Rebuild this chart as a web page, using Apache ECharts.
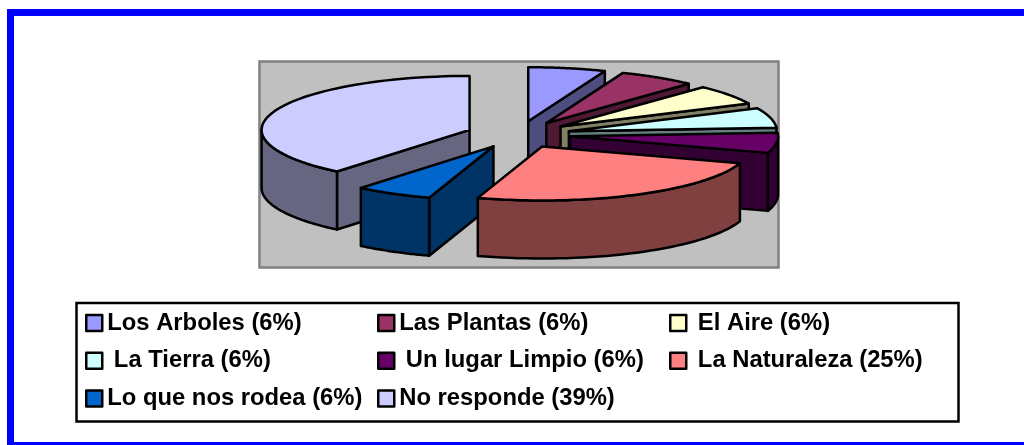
<!DOCTYPE html>
<html>
<head>
<meta charset="utf-8">
<title>Pie</title>
<script src="https://cdn.jsdelivr.net/npm/echarts@6/dist/echarts.min.js"></script>
<style>
html, body { margin: 0; padding: 0; background: #fff; }
#main { width: 1024px; height: 445px; }
</style>
</head>
<body>
<div id="main"></div>
<script>
// datos
var categories = ['Los Arboles (6%)', 'Las Plantas (6%)', ' El Aire (6%)', ' La Tierra (6%)', ' Un lugar Limpio (6%)', ' La Naturaleza (25%)', 'Lo que nos rodea (6%)', 'No responde (39%)'];
var values = [6, 6, 6, 6, 6, 25, 6, 39];
var topColors = ['#9999FF', '#993366', '#FFFFCC', '#CCFFFF', '#660066', '#FF8080', '#0066CC', '#CCCCFF'];
var sideColors = ['#4D4D80', '#4D1933', '#808066', '#668080', '#330033', '#804040', '#003366', '#666680'];
var zOrder = [1, 2, 3, 4, 5, 8, 7, 6];

// columnas de la leyenda
var legendCol1 = [categories[0], categories[3], categories[6]];
var legendCol2 = [categories[1], categories[4], categories[7]];
var legendCol3 = [categories[2], categories[5]];

// pastel "3D" : elipse + profondeur
var cx = 518.5, cy = 134.5, rx = 208, ry = 54, depth = 58, explode = 52;
var total = 0;
for (var i = 0; i < values.length; i++) total += values[i];

function pt(c, ang, h) {
	var a = ang * Math.PI / 180;
	return [c[0] + Math.sin(a) * rx, c[1] - Math.cos(a) * ry + (h || 0)];
}

function renderSlice(index) {
	var before = 0;
	for (var i = 0; i < index; i++) before += values[i];
	var start = before / total * 360;
	var end = (before + values[index]) / total * 360;
	var mid = (start + end) / 2 * Math.PI / 180;
	var c = [cx + Math.sin(mid) * explode, cy - Math.cos(mid) * explode * ry / rx];

	var side = { fill: sideColors[index], stroke: '#000', lineWidth: 2.5, lineJoin: 'round' };
	var children = [];

	function wall(ang) {
		var p = pt(c, ang);
		children.push({
			type: 'polygon',
			shape: { points: [c, p, [p[0], p[1] + depth], [c[0], c[1] + depth]] },
			style: side
		});
	}
	if (start >= 180 && start < 360) wall(start);
	if (end > 0 && end <= 180) wall(end);

	// face courbe visible (devant)
	var a0 = Math.max(start, 90), a1 = Math.min(end, 270);
	if (a1 > a0) {
		var up = [], down = [];
		for (var k = 0; k <= 40; k++) {
			var a = a0 + (a1 - a0) * k / 40;
			up.push(pt(c, a));
			down.unshift(pt(c, a, depth));
		}
		children.push({ type: 'polygon', shape: { points: up.concat(down) }, style: side });
	}

	// dessus
	var pts = [c];
	for (var j = 0; j <= 60; j++) pts.push(pt(c, start + (end - start) * j / 60));
	children.push({
		type: 'polygon',
		shape: { points: pts },
		style: { fill: topColors[index], stroke: '#000', lineWidth: 2.5, lineJoin: 'round' }
	});
	return { type: 'group', children: children };
}

var series = [];
for (var s = 0; s < categories.length; s++) {
	(function(index) {
		series.push({
			type: 'custom',
			name: categories[index],
			coordinateSystem: 'none',
			z: zOrder[index] + 1,
			silent: true,
			itemStyle: { color: topColors[index] },
			data: [values[index]],
			renderItem: function() { return renderSlice(index); }
		});
	})(s);
}

function makeLegend(names, left) {
	return {
		data: names,
		orient: 'vertical',
		left: left,
		top: 311,
		padding: 0,
		itemWidth: 16,
		itemHeight: 16,
		itemGap: 13.8,
		icon: 'rect',
		selectedMode: false,
		itemStyle: { borderColor: '#000', borderWidth: 2.5, borderJoin: 'round' },
		textStyle: { fontFamily: 'Liberation Sans', fontWeight: 'bold', fontSize: 23.8, lineHeight: 20, color: '#000' }
	};
}

var myChart = echarts.init(document.getElementById('main'));
var option = {
	animation: false,
	backgroundColor: '#fff',
	legend: [makeLegend(legendCol1, 85), makeLegend(legendCol2, 377), makeLegend(legendCol3, 669)],
	graphic: [
		// le cadre bleu sort de l'image a droite et en bas
		{ type: 'rect', z: 0, shape: { x: 10.5, y: 12.5, width: 1030, height: 433 }, style: { fill: '#fff', stroke: '#0000FF', lineWidth: 7 } },
		{ type: 'rect', z: 0, shape: { x: 259.5, y: 61.5, width: 519, height: 206 }, style: { fill: '#C0C0C0', stroke: '#808080', lineWidth: 2.5 } },
		{ type: 'rect', z: 0, shape: { x: 76.5, y: 303, width: 882, height: 118.5 }, style: { fill: '#fff', stroke: '#000', lineWidth: 2.5 } }
	],
	series: series
};
myChart.setOption(option);
</script>
</body>
</html>
